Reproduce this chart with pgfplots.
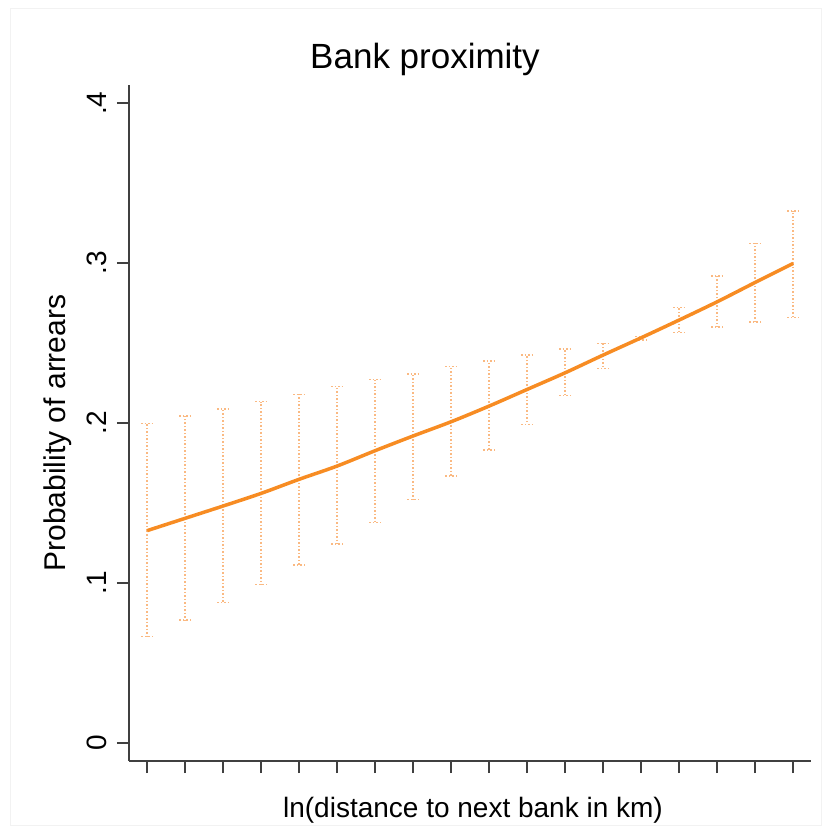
\documentclass[border=0pt]{standalone}
\usepackage{pgfplots}
\pgfplotsset{compat=1.18}
\usepackage{pgfplotstable}
\usepackage{fontspec}
\setmainfont{Liberation Sans}
\definecolor{lineorange}{RGB}{247,140,35}
\definecolor{barorange}{RGB}{250,185,130}
\definecolor{axisgray}{RGB}{64,64,64}

\pgfplotstableread{
x y lo hi
0 0.1327 0.0665 0.1998
1 0.1404 0.0769 0.2044
2 0.1481 0.0877 0.2087
3 0.1560 0.0990 0.2133
4 0.1648 0.1113 0.2179
5 0.1731 0.1242 0.2227
6 0.1827 0.1377 0.2272
7 0.1919 0.1523 0.2306
8 0.2008 0.1669 0.2352
9 0.2106 0.1831 0.2388
10 0.2210 0.1992 0.2425
11 0.2314 0.2171 0.2463
12 0.2425 0.2342 0.2498
13 0.2533 0.2519 0.2540
14 0.2644 0.2567 0.2721
15 0.2758 0.2600 0.2919
16 0.2879 0.2631 0.3123
17 0.2998 0.2660 0.3327
}\data

\begin{document}
\begin{tikzpicture}
\path[use as bounding box] (0,0) rectangle (831bp,835bp);
\draw[color=black!5, line width=1bp] (10bp,9bp) rectangle (821bp,826bp);
\begin{axis}[
  at={(129bp,74bp)}, anchor=south west,
  scale only axis, width=682bp, height=676bp,
  xmin=-0.48, xmax=17.47, ymin=-0.0114, ymax=0.4114,
  axis x line*=bottom, axis y line*=left,
  axis line style={axisgray, line width=2bp, -},
  xtick={0,...,17}, xticklabels={},
  ytick={0,0.1,0.2,0.3,0.4}, yticklabels={0,.1,.2,.3,.4},
  tick align=outside, major tick length=12bp,
  tick style={axisgray, line width=2bp},
  yticklabel style={rotate=90, anchor=south, inner xsep=0pt, inner ysep=10bp, font=\fontsize{28bp}{30bp}\selectfont},
  /pgf/number format/assume math mode=true,
  clip=false,
]
\addplot[draw=none, no marks, forget plot,
  error bars/.cd, y dir=both, y explicit,
  error bar style={draw=barorange, line width=1.5bp, dash pattern=on 1.5bp off 2bp},
  error mark options={draw=barorange, rotate=90, mark size=6bp, line width=1.5bp, dash pattern=on 1.5bp off 2bp}]
  table[x=x, y=y, y error plus expr=\thisrow{hi}-\thisrow{y}, y error minus expr=\thisrow{y}-\thisrow{lo}] {\data};
\addplot[lineorange, line width=3.5bp, smooth, no marks] table[x=x, y=y] {\data};
\end{axis}
\node[font=\fontsize{35bp}{40bp}\selectfont, anchor=base] at (425bp,766bp) {Bank proximity};
\node[font=\fontsize{28bp}{32bp}\selectfont, anchor=base] at (473bp,18bp) {ln(distance to next bank in km)};
\node[rotate=90, anchor=base, font=\fontsize{30bp}{34bp}\selectfont] at (65bp,402bp) {Probability of arrears};
\end{tikzpicture}
\end{document}
